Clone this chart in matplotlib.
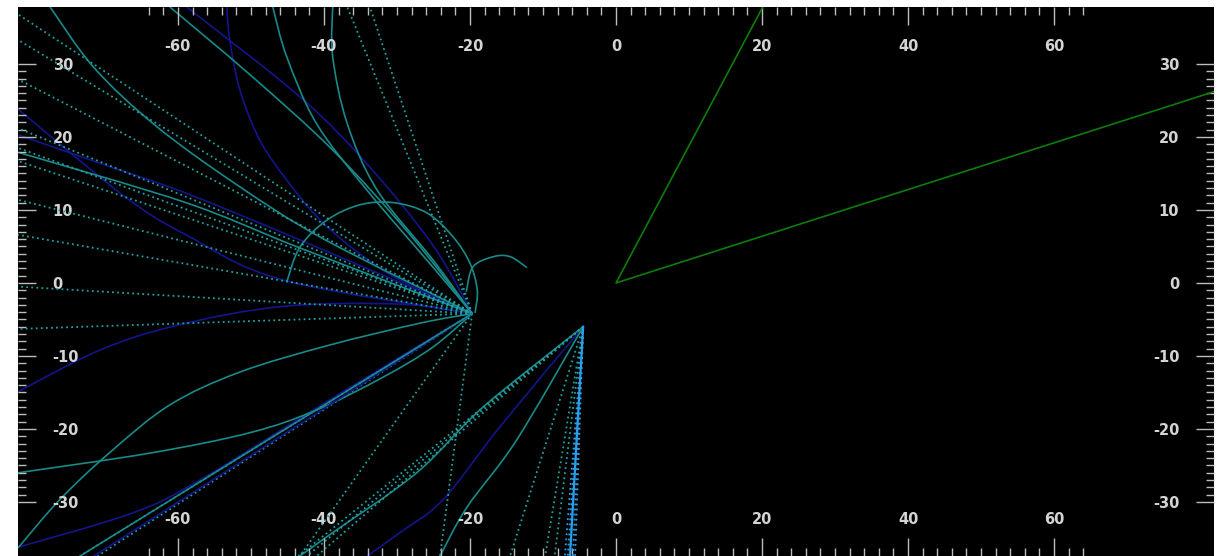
import matplotlib
matplotlib.use("Agg")
import matplotlib.pyplot as plt
from matplotlib.path import Path
from matplotlib.patches import PathPatch
import numpy as np

plt.rcParams['axes.unicode_minus'] = False

# ---------------- data (plot units) ----------------
# focal points of the two ray fans
focus_a = (-19.7, -4.2)
focus_b = (-4.5, -6.0)

# straight dotted rays leaving focus A (far end points)
ray_a_x = [-81.9, -81.9, -81.9, -81.9, -81.9, -81.9, -81.9, -81.9, -81.9, -81.9,
           -36.8, -33.7, -43.3, -24.1, -73.4, -71.0]
ray_a_y = [36.8, 33.3, 27.9, 21.2, 18.5, 16.7, 11.4, 6.6, -0.5, -6.3,
           37.8, 37.8, -37.4, -37.4, -37.4, -37.4]

# solid teal trajectories ending at focus A
teal_a1_x = [-61.1, -50.1, -38.8, -28.2]
teal_a1_y = [37.8, 28.5, 18.2, 6.6]
teal_a2_x = [-47.0, -45.1, -41.0, -34.1, -25.1]
teal_a2_y = [37.8, 31.0, 21.8, 12.7, 2.2]
teal_a3_x = [-38.8, -38.8, -36.8, -32.7, -25.1]
teal_a3_y = [37.8, 31.0, 21.8, 12.7, 3.2]
teal_a4_x = [-77.5, -71.5, -63.0, -52.0, -40.0]
teal_a4_y = [37.8, 29.5, 21.5, 13.5, 6.0]
teal_a5_x = [-81.9, -58.9, -43.3]
teal_a5_y = [17.9, 11.0, 4.8]
teal_a6_x = [-81.9, -63.8, -50.1, -41.0, -31.9, -25.1]
teal_a6_y = [-26.0, -23.3, -20.5, -17.4, -12.9, -8.8]
teal_a7_x = [-81.9, -76.2, -69.3, -61.1, -51.5, -39.2, -26.8]
teal_a7_y = [-36.3, -29.7, -23.2, -16.7, -12.2, -8.5, -5.5]
teal_a8_x = [-73.4]
teal_a8_y = [-37.4]

# solid dark-blue trajectories ending at focus A
blue_a1_x = [-58.8, -43.3, -34.1, -25.1]
blue_a1_y = [37.8, 25.5, 16.3, 5.2]
blue_a2_x = [-53.3, -52.9, -51.5, -48.8, -45.1, -40.5, -35.1, -29.6]
blue_a2_y = [37.8, 33.3, 26.4, 19.6, 14.1, 8.6, 4.0, 0.4]
blue_a3_x = [-81.9, -67.5, -58.9, -45.6]
blue_a3_y = [23.8, 12.0, 6.6, 0.4]
blue_a4_x = [-81.9, -70.7, -58.9, -43.3]
blue_a4_y = [20.3, 16.4, 12.3, 5.9]
blue_a5_x = [-81.9, -70.7, -60.1, -45.6, -29.6]
blue_a5_y = [-14.9, -9.2, -5.8, -3.2, -2.9]
blue_a6_x = [-81.9, -66.2, -57.0, -39.2]
blue_a6_y = [-36.2, -31.5, -27.0, -16.0]
blue_a7_x = [-71.5]
blue_a7_y = [-37.4]

# rays leaving focus B
ray_b_bright_x = [-7.0, -6.6, -6.3, -5.9, -5.6]
ray_b_dot_x = [-8.4, -9.7, -14.5, -41.0, -42.3, -43.5]
ray_b_end_y = -37.4

teal_b1_x = [-13.6, -20.4, -24.1]
teal_b1_y = [-21.5, -30.7, -37.4]
teal_b2_x = [-18.2, -27.3, -38.8, -43.3]
teal_b2_y = [-17.0, -26.0, -34.2, -37.4]
blue_b1_x = [-15.9, -23.7, -29.6, -34.1]
blue_b1_y = [-19.7, -29.7, -34.2, -37.4]

# loop trajectories near focus A
arc_x = [-45.1, -43.3, -39.6, -35.1, -30.5, -25.9, -22.3, -20.0, -19.0, -19.3]
arc_y = [0.1, 4.9, 8.6, 10.7, 11.0, 9.6, 6.3, 2.7, -1.0, -4.1]
hook_x = [-20.5, -19.6, -16.8, -14.5, -12.2]
hook_y = [-1.2, 2.2, 3.6, 3.6, 2.1]

# cone from the origin
cone_x = [20.1, 0.0, 81.9]
cone_y = [37.8, 0.0, 26.2]

x_major = [-60, -40, -20, 0, 20, 40, 60]
x_minor = list(range(-64, 65, 2))
y_major = [-30, -20, -10, 0, 10, 20, 30]
y_minor = list(range(-30, 31, 1))

# ---------------- styling ----------------
TEAL = '#198a8a'
DOT_TEAL = '#22a0a0'
BLUE = '#14148c'
BRIGHT = '#2a9ee8'
GREEN = '#0b7d0b'
LW = 1.2
DOTS = (0, (1.0, 1.8))

fig = plt.figure(figsize=(12.28, 5.56), dpi=100, facecolor='white')
ax = fig.add_axes([18 / 1228, 0.0, 1196 / 1228, 549 / 556])
ax.set_facecolor('black')
ax.set_xlim(-81.9, 81.9)
ax.set_ylim(-37.4, 37.8)


def smooth_curve(xs, ys, color):
    """Draw a curve through the given points as cubic Bezier segments."""
    p = np.column_stack([xs, ys]).astype(float)
    if len(p) < 3:
        ax.plot(p[:, 0], p[:, 1], color=color, lw=LW)
        return
    verts = [p[0]]
    codes = [Path.MOVETO]
    n = len(p)
    for i in range(n - 1):
        p0 = p[i - 1] if i > 0 else p[i]
        p1, p2 = p[i], p[i + 1]
        p3 = p[i + 2] if i + 2 < n else p[i + 1]
        c1 = p1 + (p2 - p0) / 6.0
        c2 = p2 - (p3 - p1) / 6.0
        verts += [c1, c2, p2]
        codes += [Path.CURVE4] * 3
    ax.add_patch(PathPatch(Path(verts, codes), fill=False, edgecolor=color, lw=LW))


ax_, ay_ = focus_a
bx_, by_ = focus_b

# dotted rays from A
for x, y in zip(ray_a_x, ray_a_y):
    ax.plot([ax_, x], [ay_, y], color=DOT_TEAL, lw=1.3, ls=DOTS)

# blue trajectories into A
for xs, ys in [(blue_a1_x, blue_a1_y), (blue_a2_x, blue_a2_y), (blue_a3_x, blue_a3_y),
               (blue_a4_x, blue_a4_y), (blue_a5_x, blue_a5_y), (blue_a6_x, blue_a6_y),
               (blue_a7_x, blue_a7_y)]:
    smooth_curve(xs + [ax_], ys + [ay_], BLUE)

# teal trajectories into A
for xs, ys in [(teal_a1_x, teal_a1_y), (teal_a2_x, teal_a2_y), (teal_a3_x, teal_a3_y),
               (teal_a4_x, teal_a4_y), (teal_a5_x, teal_a5_y), (teal_a6_x, teal_a6_y),
               (teal_a7_x, teal_a7_y), (teal_a8_x, teal_a8_y)]:
    smooth_curve(xs + [ax_], ys + [ay_], TEAL)

# fan from B
for x in ray_b_dot_x:
    ax.plot([bx_, x], [by_, ray_b_end_y], color=DOT_TEAL, lw=1.3, ls=DOTS)
smooth_curve([bx_] + blue_b1_x, [by_] + blue_b1_y, BLUE)
for xs, ys in [(teal_b1_x, teal_b1_y), (teal_b2_x, teal_b2_y)]:
    smooth_curve([bx_] + xs, [by_] + ys, TEAL)
for x in ray_b_bright_x:
    ax.plot([bx_, x], [by_, ray_b_end_y], color=BRIGHT, lw=1.3, ls=DOTS)
ax.plot([bx_, ray_b_bright_x[2]], [by_, ray_b_end_y], color=BRIGHT, lw=1.6)

# loops
smooth_curve(arc_x, arc_y, TEAL)
smooth_curve(hook_x, hook_y, TEAL)

# cone
ax.plot(cone_x, cone_y, color=GREEN, lw=LW)

# ---------------- axes decoration ----------------
for s in ax.spines.values():
    s.set_visible(False)

TICK_C = '#bdbdbd'
LAB_C = '#d4d4d4'
ax.set_xticks(x_major)
ax.set_xticks(x_minor, minor=True)
ax.set_yticks(y_major)
ax.set_yticks(y_minor, minor=True)
ax.tick_params(axis='both', which='both', direction='in', color=TICK_C,
               labelcolor=LAB_C, width=1.0)
ax.tick_params(axis='x', which='both', top=True, bottom=True,
               labeltop=True, labelbottom=True)
ax.tick_params(axis='y', which='both', left=True, right=True,
               labelleft=True, labelright=True)
ax.tick_params(which='major', length=13)
ax.tick_params(which='minor', length=5.8)
ax.tick_params(axis='x', which='major', pad=-32)
ax.tick_params(axis='y', which='major', pad=-25)

for t in ax.xaxis.get_major_ticks():
    t.label2.set_va('baseline')
    for lab in (t.label1, t.label2):
        lab.set_fontweight('bold')
        lab.set_fontsize(10.5)
for t in ax.yaxis.get_major_ticks():
    t.label1.set_ha('left')
    t.label2.set_ha('right')
    for lab in (t.label1, t.label2):
        lab.set_fontweight('bold')
        lab.set_fontsize(10.5)

fig.savefig('out.png', dpi=100, facecolor='white')
